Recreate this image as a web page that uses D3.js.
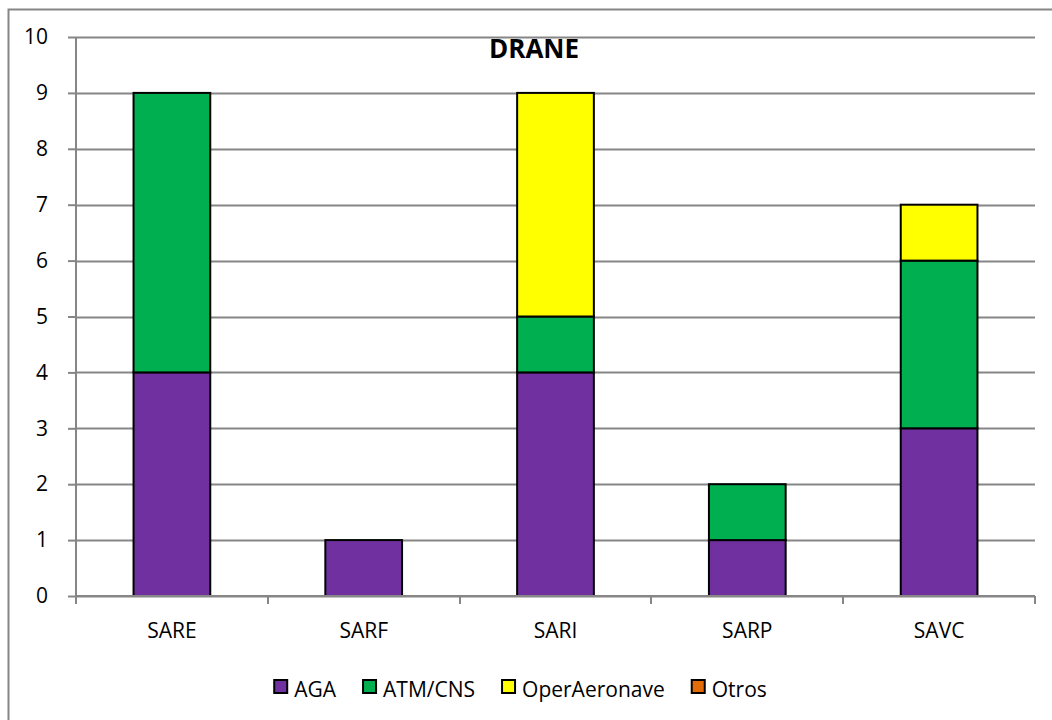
<!DOCTYPE html>
<html>
<head>
<meta charset="utf-8">
<script src="https://cdn.jsdelivr.net/npm/d3@7/dist/d3.min.js"></script>
<style>
  html, body { margin: 0; padding: 0; background: #fff; }
  svg { display: block; font-family: "Open Sans", sans-serif; }
</style>
</head>
<body>
<div id="chart"></div>
<script>
// data
const categories = ["SARE", "SARF", "SARI", "SARP", "SAVC"];
const seriesNames = ["AGA", "ATM/CNS", "OperAeronave", "Otros"];
const aga = [4, 1, 4, 1, 3];
const atmCns = [5, 0, 1, 1, 3];
const operAeronave = [0, 0, 4, 0, 1];
const otros = [0, 0, 0, 0, 0];
const yTicks = [0, 1, 2, 3, 4, 5, 6, 7, 8, 9, 10];
const colors = ["#7030A0", "#00B050", "#FFFF00", "#E36C09"];

const W = 1052, H = 720;
const plot = { left: 76, right: 1035, top: 37, bottom: 596 };

const svg = d3.select("#chart").append("svg")
    .attr("width", W)
    .attr("height", H);

// outer chart border (right/bottom fall outside the picture)
svg.append("rect")
    .attr("x", 8.5).attr("y", 9.5)
    .attr("width", W + 10).attr("height", H + 10)
    .attr("fill", "#fff")
    .attr("stroke", "#868686")
    .attr("stroke-width", 2);

const x = d3.scaleBand()
    .domain(categories)
    .range([plot.left, plot.right])
    .paddingInner(0)
    .paddingOuter(0);

const y = d3.scaleLinear()
    .domain([0, 10])
    .range([plot.bottom, plot.top]);

// gridlines
svg.append("g")
    .selectAll("line")
    .data(yTicks)
    .enter()
    .append("line")
    .attr("x1", plot.left)
    .attr("x2", plot.right)
    .attr("y1", d => Math.round(y(d)) + 0.5)
    .attr("y2", d => Math.round(y(d)) + 0.5)
    .attr("stroke", "#868686")
    .attr("stroke-width", 2);

// stacked bars
const table = categories.map((c, i) => ({
    cat: c,
    AGA: aga[i],
    "ATM/CNS": atmCns[i],
    OperAeronave: operAeronave[i],
    Otros: otros[i]
}));
const stacked = d3.stack().keys(seriesNames)(table);
const barW = x.bandwidth() / 2.5;

svg.append("g")
    .selectAll("g")
    .data(stacked)
    .enter()
    .append("g")
    .attr("fill", (d, i) => colors[i])
    .selectAll("rect")
    .data(d => d.filter(s => s[1] - s[0] > 0))
    .enter()
    .append("rect")
    .attr("x", d => x(d.data.cat) + (x.bandwidth() - barW) / 2)
    .attr("y", d => y(d[1]))
    .attr("width", barW)
    .attr("height", d => y(d[0]) - y(d[1]))
    .attr("stroke", "#000")
    .attr("stroke-width", 2);

// y axis
const yAxis = svg.append("g")
    .attr("transform", `translate(${plot.left},0)`)
    .call(d3.axisLeft(y).tickValues(yTicks).tickSize(8).tickPadding(20).tickFormat(d3.format("d")));
yAxis.selectAll("line, path").attr("stroke", "#868686").attr("stroke-width", 2);
yAxis.select("path").attr("d", `M0,${plot.top}V${plot.bottom}`);
yAxis.selectAll("text")
    .attr("fill", "#000")
    .style("font-size", "21px")
    .style("font-family", "'Open Sans', sans-serif");

// x axis
const xAxis = svg.append("g")
    .attr("transform", `translate(0,${plot.bottom})`)
    .call(d3.axisBottom(x).tickSize(0).tickPadding(27));
xAxis.select("path").attr("stroke", "#868686").attr("stroke-width", 2)
    .attr("d", `M${plot.left},0H${plot.right}`);
xAxis.selectAll("text")
    .attr("fill", "#000")
    .style("font-size", "21px")
    .style("font-family", "'Open Sans', sans-serif");

// category boundary ticks
const bounds = categories.map(c => x(c)).concat([plot.right]);
svg.append("g")
    .selectAll("line")
    .data(bounds)
    .enter()
    .append("line")
    .attr("x1", d => Math.round(d))
    .attr("x2", d => Math.round(d))
    .attr("y1", plot.bottom)
    .attr("y2", plot.bottom + 8)
    .attr("stroke", "#868686")
    .attr("stroke-width", 2);

// title
svg.append("text")
    .attr("x", 534)
    .attr("y", 58)
    .attr("text-anchor", "middle")
    .style("font-size", "26px")
    .style("font-weight", "bold")
    .text("DRANE");

// legend
const legend = svg.append("g");
let lx = 0;
seriesNames.forEach((name, i) => {
    const item = legend.append("g").attr("transform", `translate(${lx},0)`);
    item.append("rect")
        .attr("x", 1).attr("y", 680)
        .attr("width", 13).attr("height", 13)
        .attr("fill", colors[i])
        .attr("stroke", "#000")
        .attr("stroke-width", 2);
    const t = item.append("text")
        .attr("x", 21)
        .attr("y", 697)
        .style("font-size", "21px")
        .text(name);
    lx += 21 + t.node().getComputedTextLength() + 26;
});
const legendW = lx - 26;
legend.attr("transform", `translate(${520 - legendW / 2},0)`);
</script>
</body>
</html>
